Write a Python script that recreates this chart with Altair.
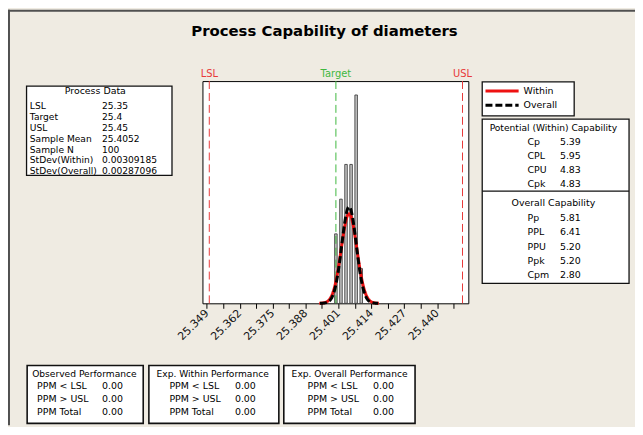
import altair as alt
import pandas as pd

# ---------------- data ----------------
bin_centers = [25.400, 25.402, 25.404, 25.406, 25.408, 25.410]
bin_counts = [10, 15, 20, 20, 30, 5]
bin_width = 0.001
sample_mean = 25.4052
sample_n = 100
sd_within = 0.00309185
sd_overall = 0.00287096

spec_names = ["LSL", "Target", "USL"]
spec_values = [25.35, 25.4, 25.45]

tick_values = [25.349, 25.3555, 25.362, 25.3685, 25.375, 25.3815, 25.388, 25.3945,
               25.401, 25.4075, 25.414, 25.4205, 25.427, 25.4335, 25.440, 25.4465]
major_labels = ["25.349", "25.362", "25.375", "25.388", "25.401", "25.414", "25.427", "25.440"]

process_labels = ["LSL", "Target", "USL", "Sample Mean", "Sample N", "StDev(Within)", "StDev(Overall)"]
process_values = ["25.35", "25.4", "25.45", "25.4052", "100", "0.00309185", "0.00287096"]
within_labels = ["Cp", "CPL", "CPU", "Cpk"]
within_values = ["5.39", "5.95", "4.83", "4.83"]
overall_labels = ["Pp", "PPL", "PPU", "Ppk", "Cpm"]
overall_values = ["5.81", "6.41", "5.20", "5.20", "2.80"]
perf_titles = ["Observed Performance", "Exp. Within Performance", "Exp. Overall Performance"]
perf_labels = ["PPM < LSL", "PPM > USL", "PPM Total"]
perf_values = [["0.00", "0.00", "0.00"], ["0.00", "0.00", "0.00"], ["0.00", "0.00", "0.00"]]

# ---------------- layout helpers ----------------
FONT = "DejaVu Sans"
OX, OY = 204, 80          # page position of plot area
PW, PH = 268, 224         # plot area size
CW, CH = 632, 419         # whole chart size
BG = "#efebe2"
X_DOMAIN = [25.3473, 25.4523]
Y_DOMAIN = [0, 32]

def px(x):
    return x - OX

def py(y):
    return y - OY

def one():
    return alt.Data(values=[{}])

def text(t, x, y, align="left", size=9.5, color="black", bold=False):
    return alt.Chart(one()).mark_text(
        text=t, align=align, baseline="middle", font=FONT, fontSize=size,
        color=color, fontWeight="bold" if bold else "normal"
    ).encode(x=alt.value(px(x)), y=alt.value(py(y)))

def box(x1, y1, x2, y2, sw=1.3):
    return alt.Chart(one()).mark_rect(fill="white", stroke="#111111", strokeWidth=sw).encode(
        x=alt.value(px(x1)), x2=alt.value(px(x2)), y=alt.value(py(y1)), y2=alt.value(py(y2)))

def hline(x1, x2, y, color="#111111", sw=1.3, dash=None):
    kw = dict(color=color, strokeWidth=sw)
    if dash:
        kw["strokeDash"] = dash
    return alt.Chart(one()).mark_rule(**kw).encode(
        x=alt.value(px(x1)), x2=alt.value(px(x2)), y=alt.value(py(y)))

def vline(x, y1, y2, color="#111111", sw=1.3):
    return alt.Chart(one()).mark_rule(color=color, strokeWidth=sw).encode(
        x=alt.value(px(x)), y=alt.value(py(y1)), y2=alt.value(py(y2)))

label_expr = ("indexof(" + str(major_labels) + ", format(datum.value, '.3f')) >= 0 ? "
              "format(datum.value, '.3f') : ''")

def xenc(field):
    return alt.X(field, type="quantitative",
                 scale=alt.Scale(domain=X_DOMAIN, nice=False, zero=False),
                 axis=alt.Axis(values=tick_values, labelExpr=label_expr, title=None,
                               domain=False, grid=False, tickColor="black", tickSize=5,
                               labelFontSize=11, labelAngle=-45, labelAlign="right",
                               labelBaseline="middle", labelColor="#111111", labelFont=FONT,
                               labelPadding=3, labelOverlap=False, labelFlush=False))

def yenc(field):
    return alt.Y(field, type="quantitative",
                 scale=alt.Scale(domain=Y_DOMAIN, nice=False, zero=True), axis=None)

layers = []

# outer frame lines (top and left)
layers.append(hline(8, 8 + CW, 9, color="#505050", sw=2))
layers.append(vline(9, 8, 8 + CH, color="#505050", sw=2))

# histogram
hist_df = pd.DataFrame({"center": bin_centers, "count": bin_counts})
hist = alt.Chart(hist_df).transform_calculate(
    x0=f"datum.center - {bin_width / 2}", x1=f"datum.center + {bin_width / 2}", base="0"
).mark_rect(fill="#c4c4c4", stroke="#303030", strokeWidth=0.8).encode(
    x=xenc("x0"), x2="x1:Q", y=yenc("count"), y2="base:Q")
layers.append(hist)

# spec limit lines
spec_df = pd.DataFrame({"name": spec_names, "value": spec_values})
spec_color = alt.Color("name:N", scale=alt.Scale(domain=spec_names,
                       range=["#e83a3a", "#3fb83f", "#e83a3a"]), legend=None)
spec_lines = alt.Chart(spec_df).mark_rule(strokeWidth=1, strokeDash=[8, 4]).encode(
    x=xenc("value"), color=spec_color)
spec_text = alt.Chart(spec_df).mark_text(font=FONT, fontSize=10, baseline="middle").encode(
    x=xenc("value"), y=alt.value(-7), text="name:N",
    color=alt.Color("name:N", scale=alt.Scale(domain=spec_names,
                    range=["#ff3c3c", "#55c055", "#ff3c3c"]), legend=None))
layers += [spec_lines, spec_text]

# fitted normal curves
def curve(sd, k, color, dash=None):
    kw = dict(color=color, strokeWidth=3)
    if dash:
        kw["strokeDash"] = dash
    return alt.Chart(alt.sequence(-k, k + 0.001, 0.05, as_="z")).transform_calculate(
        cx=f"{sample_mean} + datum.z * {sd}",
        cy=f"{sample_n * bin_width} * exp(-datum.z * datum.z / 2) / ({sd} * sqrt(2 * PI))"
    ).mark_line(**kw).encode(x=xenc("cx"), y=yenc("cy"), order="z:Q")

layers.append(curve(sd_within, 3.8, "#ee1111"))
layers.append(curve(sd_overall, 4.0, "black", dash=[7, 3]))

# title
layers.append(text("Process Capability of diameters", 327, 30, align="center", size=15, bold=True))

# Process data box
layers.append(box(26.7, 85, 173.3, 175))
layers.append(text("Process Data", 96, 90, align="center"))
for i, (lab, val) in enumerate(zip(process_labels, process_values)):
    y = 105 + 11 * i
    layers.append(text(lab, 30, y, size=9.2))
    layers.append(text(val, 102.7, y, size=9.2))

# legend box
layers.append(box(486, 80.7, 578.7, 115))
layers.append(hline(489.3, 522.7, 90, color="#ee1111", sw=3))
layers.append(text("Within", 527.7, 90))
layers.append(hline(489.3, 522.7, 104.3, color="black", sw=3, dash=[7, 3]))
layers.append(text("Overall", 527.7, 104.3))

# capability box
layers.append(box(486, 118.3, 634, 284))
layers.append(hline(486, 634, 191))
layers.append(text("Potential (Within) Capability", 557.7, 127.3, align="center", size=9.2))
for i, (lab, val) in enumerate(zip(within_labels, within_values)):
    y = 141 + 14.2 * i
    layers.append(text(lab, 531.7, y))
    layers.append(text(val, 564.3, y))
layers.append(text("Overall Capability", 557.7, 202.7, align="center"))
for i, (lab, val) in enumerate(zip(overall_labels, overall_values)):
    y = 218 + 14.4 * i
    layers.append(text(lab, 531.7, y))
    layers.append(text(val, 564.3, y))

# performance boxes
box_x = [(27.3, 144.3), (150, 281), (286, 418.3)]
title_cx = [85, 214.3, 352.3]
lab_x = [37.3, 170.7, 310]
val_x = [102.7, 236.7, 376]
for j in range(3):
    layers.append(box(box_x[j][0], 366.7, box_x[j][1], 425, sw=1.6))
    layers.append(text(perf_titles[j], title_cx[j], 375.7, align="center", size=9.2))
    for i, (lab, val) in enumerate(zip(perf_labels, perf_values[j])):
        y = 387.3 + 13.35 * i
        layers.append(text(lab, lab_x[j], y))
        layers.append(text(val, val_x[j], y))

chart = alt.layer(*layers).properties(
    width=PW, height=PH,
    autosize=alt.AutoSizeParams(type="none"),
    padding={"left": OX - 8, "top": OY - 8, "right": CW - (OX - 8) - PW,
             "bottom": CH - (OY - 8) - PH},
    background=BG,
).configure_view(stroke="black", strokeWidth=1, fill="white")

chart.save("out.html", embed_options={"renderer": "svg", "actions": False})
